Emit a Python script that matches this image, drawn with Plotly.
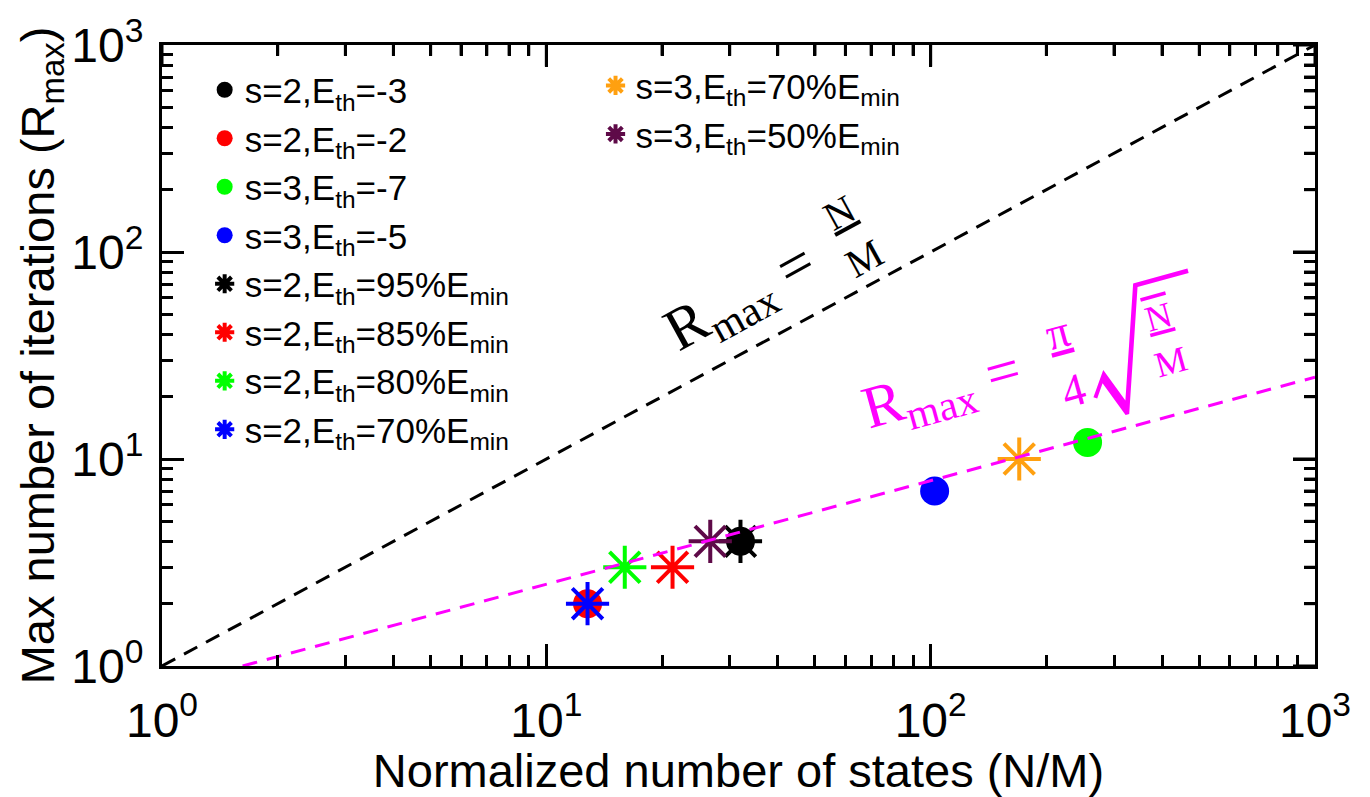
import plotly.graph_objects as go

# ---------------- data ----------------
circle_names = ["s=2,E<sub>th</sub>=-3", "s=2,E<sub>th</sub>=-2",
                "s=3,E<sub>th</sub>=-7", "s=3,E<sub>th</sub>=-5"]
circle_x = [32, 12.8, 256, 102.4]
circle_y = [4, 2, 12, 7]
circle_colors = ["#000000", "#FF0000", "#00FF00", "#0000FF"]

star_names = ["s=2,E<sub>th</sub>=95%E<sub>min</sub>", "s=2,E<sub>th</sub>=85%E<sub>min</sub>",
              "s=2,E<sub>th</sub>=80%E<sub>min</sub>", "s=2,E<sub>th</sub>=70%E<sub>min</sub>"]
star_x = [32, 21.3, 16, 12.8]
star_y = [4, 3, 3, 2]
star_colors = ["#000000", "#FF0000", "#00FF00", "#0000FF"]

star2_names = ["s=3,E<sub>th</sub>=70%E<sub>min</sub>", "s=3,E<sub>th</sub>=50%E<sub>min</sub>"]
star2_x = [170, 26.7]
star2_y = [10, 4]
star2_colors = ["#FFA010", "#5E0A48"]

# reference lines  R = N/M  and  R = (pi/4) sqrt(N/M)
linear_x = [1, 1000]
linear_y = [1, 1000]
grover_x = [1.621, 1000]
grover_y = [1, 24.84]

tick_vals = [1, 10, 100, 1000]
tick_text = ["10<sup>0</sup>", "10<sup>1</sup>", "10<sup>2</sup>", "10<sup>3</sup>"]
minor_vals = [2, 3, 4, 5, 6, 7, 8, 9, 20, 30, 40, 50, 60, 70, 80, 90,
              200, 300, 400, 500, 600, 700, 800, 900]

SANS = "Liberation Sans, Arial, Helvetica, sans-serif"
SERIF = "Liberation Serif, Times New Roman, serif"
MAGENTA = "#FF00FF"
MAJOR_LEN, MINOR_LEN, TICK_W = 22, 11, 3
W, H = 1370, 797
ML, MR, MT, MB = 162, 55, 38, 124
PLOT_W, PLOT_H = W - ML - MR, H - MT - MB
LOG_LO, LOG_HI = 0, 3

fig = go.Figure()

fig.add_trace(go.Scatter(x=linear_x, y=linear_y, mode="lines", showlegend=False,
                         line=dict(color="black", width=3, dash="15px,10px"), hoverinfo="skip"))
# magenta line lives on the minor-tick overlay axes (identical ranges)
fig.add_trace(go.Scatter(x=grover_x, y=grover_y, mode="lines", showlegend=False,
                         xaxis="x3", yaxis="y3",
                         line=dict(color=MAGENTA, width=3, dash="15px,10px"), hoverinfo="skip"))

# tick marks on the top and right edges of the frame, drawn through the axes' scales
top_x, top_y, right_x, right_y = [], [], [], []
for vals, ln in ((tick_vals, MAJOR_LEN), (minor_vals, MINOR_LEN)):
    for v in vals:
        top_x += [v, v, None]
        top_y += [10 ** LOG_HI, 10 ** (LOG_HI - ln * (LOG_HI - LOG_LO) / PLOT_H), None]
        right_x += [10 ** LOG_HI, 10 ** (LOG_HI - ln * (LOG_HI - LOG_LO) / PLOT_W), None]
        right_y += [v, v, None]
for tx, ty in ((top_x, top_y), (right_x, right_y)):
    fig.add_trace(go.Scatter(x=tx, y=ty, mode="lines", showlegend=False, hoverinfo="skip",
                             connectgaps=False, line=dict(color="black", width=TICK_W)))

for n, x, y, c in zip(circle_names, circle_x, circle_y, circle_colors):
    fig.add_trace(go.Scatter(x=[x], y=[y], mode="markers", name=n, legend="legend",
                             marker=dict(symbol="circle", size=29, color=c, line=dict(width=0))))
for n, x, y, c in zip(star_names, star_x, star_y, star_colors):
    fig.add_trace(go.Scatter(x=[x], y=[y], mode="markers", name=n, legend="legend",
                             marker=dict(symbol="asterisk-open", size=36, color=c,
                                         line=dict(width=4, color=c))))
for n, x, y, c in zip(star2_names, star2_x, star2_y, star2_colors):
    fig.add_trace(go.Scatter(x=[x], y=[y], mode="markers", name=n, legend="legend2",
                             marker=dict(symbol="asterisk-open", size=36, color=c,
                                         line=dict(width=4, color=c))))

major_axis = dict(
    type="log", range=[LOG_LO, LOG_HI], tickmode="array", tickvals=tick_vals, ticktext=tick_text,
    ticks="inside", ticklen=MAJOR_LEN, tickwidth=TICK_W, tickcolor="black",
    showline=True, linecolor="black", linewidth=3, mirror="ticks",
    showgrid=False, zeroline=False,
    tickfont=dict(family=SANS, size=48, color="black"),
)
minor_axis = dict(
    type="log", range=[LOG_LO, LOG_HI], tickmode="array", tickvals=minor_vals,
    ticks="inside", ticklen=MINOR_LEN, tickwidth=TICK_W, tickcolor="black", showticklabels=False,
    showline=True, linecolor="black", linewidth=3, mirror="ticks",
    showgrid=False, zeroline=False,
)

fig.update_layout(
    xaxis=dict(title=dict(text="Normalized number of states (N/M)",
                          font=dict(family=SANS, size=47, color="black"), standoff=6),
               ticklabelstandoff=10, **major_axis),
    yaxis=dict(title=dict(text="Max number of iterations (R<sub>max</sub>)",
                          font=dict(family=SANS, size=47, color="black"), standoff=0),
               ticklabelstandoff=6, **major_axis),
    xaxis3=dict(overlaying="x", anchor="y3", side="bottom", **minor_axis),
    yaxis3=dict(overlaying="y", anchor="x3", side="left", **minor_axis),
)

legend_common = dict(bgcolor="rgba(0,0,0,0)", borderwidth=0,
                     font=dict(family=SANS, size=35, color="black"),
                     xanchor="left", yanchor="top", itemsizing="trace", tracegroupgap=0)

annotations = [
    # black formula R = N/M
    dict(x=1.509, y=1.771, text="R<sub>max</sub> =", textangle=-28.8,
         font=dict(family=SERIF, size=60, color="black")),
    dict(x=1.795, y=2.080, text="<u>N</u><br>M", textangle=-28.8,
         font=dict(family=SERIF, size=40, color="black")),
    # magenta formula R = pi/4 sqrt(N/M)
    dict(x=2.030, y=1.320, text="R<sub>max</sub> =", textangle=-15.4,
         font=dict(family=SERIF, size=60, color=MAGENTA)),
    dict(x=2.350, y=1.469, text="<u>π</u><br>4", textangle=-15.4,
         font=dict(family=SERIF, size=46, color=MAGENTA)),
    dict(x=2.545, y=1.569, text="√", textangle=-15.4,
         font=dict(family="Noto Sans CJK JP", size=130, color=MAGENTA, weight=100)),
    dict(x=2.610, y=1.575, text="<span style='text-decoration:overline'><u>N</u></span><br>M",
         textangle=-15.4, font=dict(family=SERIF, size=36, color=MAGENTA)),
]
for a in annotations:
    a.update(xref="x", yref="y", showarrow=False, xanchor="center", yanchor="middle")

fig.update_layout(
    width=W, height=H,
    margin=dict(l=ML, r=MR, t=MT, b=MB),
    paper_bgcolor="white", plot_bgcolor="white",
    legend=dict(x=0.037, y=0.975, **legend_common),
    legend2=dict(x=0.376, y=0.982, **legend_common),
    annotations=annotations,
)

fig.write_html("out.html")
